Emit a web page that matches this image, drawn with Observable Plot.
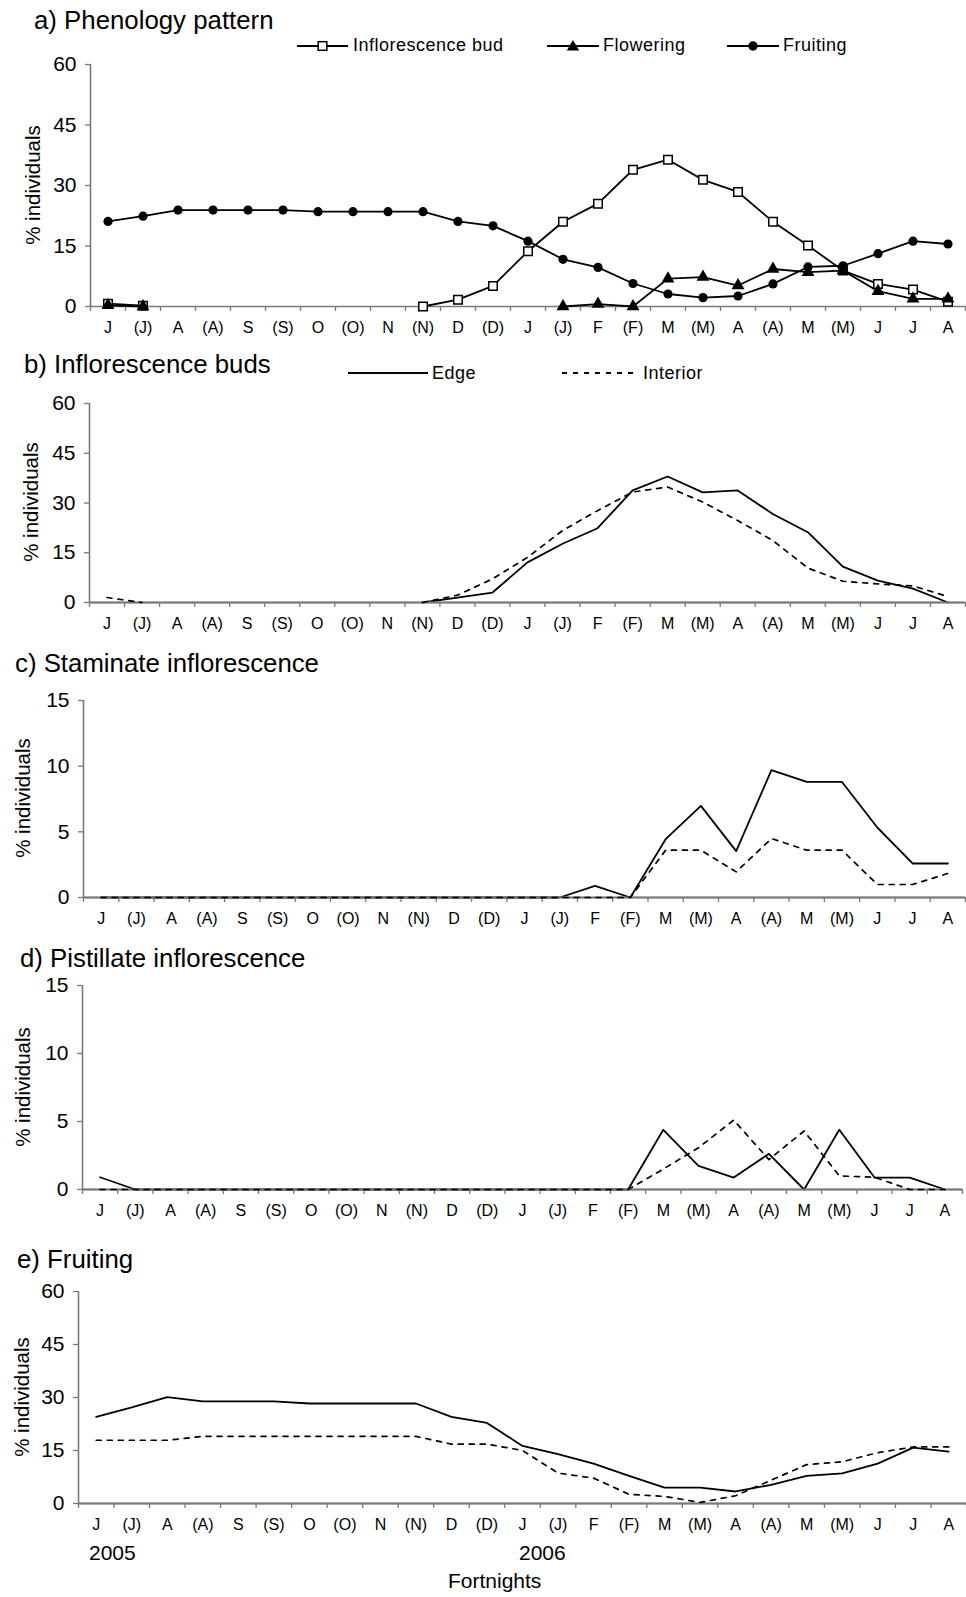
<!DOCTYPE html>
<html><head><meta charset="utf-8">
<script src="https://cdn.jsdelivr.net/npm/d3@7"></script>
<script src="https://cdn.jsdelivr.net/npm/@observablehq/plot@0.6"></script>
<style>
body{margin:0;background:#fff;font-family:"Liberation Sans",Arial,sans-serif;}
#root{position:relative;width:966px;height:1597px;overflow:hidden;}
.abs{position:absolute;line-height:1;white-space:nowrap;color:#000;}
.title{font-size:25.8px;}
.leg{font-size:18px;letter-spacing:0.5px;}
.ylab{font-size:20.5px;transform:translate(-50%,-50%) rotate(-90deg);}
.big{font-size:21px;}
</style></head><body><div id="root"></div>
<script>
// ---------- data ----------
const fortnights = ["J","(J)","A","(A)","S","(S)","O","(O)","N","(N)","D","(D)","J","(J)","F","(F)","M","(M)","A","(A)","M","(M)","J","J","A"];
const ticks60 = [0, 15, 30, 45, 60];
const ticks15 = [0, 5, 10, 15];

// a) Phenology pattern
const budA   = [0.7, 0.2, null, null, null, null, null, null, null, 0, 1.7, 5.1, 13.7, 21.0, 25.5, 33.9, 36.4, 31.4, 28.4, 21.0, 15.1, 8.9, 5.6, 4.2, 1.2];
const flowA  = [0.3, 0, null, null, null, null, null, null, null, null, null, null, null, 0, 0.6, 0, 6.9, 7.3, 5.2, 9.3, 8.5, 8.9, 3.8, 1.9, 1.9];
const fruitA = [21.1, 22.4, 23.9, 23.9, 23.9, 23.9, 23.5, 23.5, 23.5, 23.5, 21.1, 20.0, 16.2, 11.7, 9.7, 5.7, 3.1, 2.2, 2.6, 5.6, 9.8, 10.1, 13.1, 16.2, 15.5];

// b) Inflorescence buds
const edgeB = [null, null, null, null, null, null, null, null, null, 0, 1.5, 3.0, 12.1, 17.7, 22.4, 33.8, 38.0, 33.2, 33.8, 26.7, 21.2, 10.8, 6.6, 4.2, 0];
const intB  = [1.5, 0, null, null, null, null, null, null, null, 0, 2.2, 7.1, 13.6, 21.7, 27.7, 33.3, 34.8, 30.3, 24.7, 18.7, 10.4, 6.4, 5.6, 5.0, 1.8];

// c) Staminate inflorescence
const edgeC = [0, 0, 0, 0, 0, 0, 0, 0, 0, 0, 0, 0, 0, 0, 0.88, 0, 4.44, 6.98, 3.53, 9.7, 8.8, 8.8, 5.33, 2.59, 2.59];
const intC  = [0, 0, 0, 0, 0, 0, 0, 0, 0, 0, 0, 0, 0, 0, 0, 0, 3.6, 3.6, 1.95, 4.49, 3.6, 3.6, 0.99, 0.99, 1.83];

// d) Pistillate inflorescence
const edgeD = [0.9, 0, 0, 0, 0, 0, 0, 0, 0, 0, 0, 0, 0, 0, 0, 0, 4.39, 1.74, 0.88, 2.62, 0, 4.39, 0.88, 0.88, 0];
const intD  = [0, 0, 0, 0, 0, 0, 0, 0, 0, 0, 0, 0, 0, 0, 0, 0, 1.5, 3.07, 5.1, 2.2, 4.3, 1.0, 0.9, 0, 0];

// e) Fruiting
const edgeE = [24.5, 27.2, 30.1, 28.9, 28.9, 28.9, 28.3, 28.3, 28.3, 28.3, 24.5, 22.8, 16.3, 14.0, 11.3, 7.8, 4.5, 4.5, 3.4, 5.3, 7.8, 8.5, 11.3, 15.8, 14.7];
const intE  = [17.9, 17.9, 17.9, 19.0, 19.0, 19.0, 19.0, 19.0, 19.0, 19.0, 16.8, 16.8, 15.0, 8.6, 7.2, 2.6, 2.0, 0.3, 2.2, 6.6, 11.0, 11.8, 14.4, 16.0, 16.0];

const years = ["2005", "2006"];

// ---------- helpers ----------
const root = document.getElementById("root");
const n = fortnights.length;
const idx = d3.range(n);
const xDomain = [-0.5, n - 0.5];
const boundaries = d3.range(n + 1).map(i => i - 0.5);
const AX = "#7a7a7a";
const FONT = "'Liberation Sans', Arial, sans-serif";

function solid(arr) { return Plot.line(arr, {x: (d, i) => i, y: d => d, stroke: "#000", strokeWidth: 1.8}); }
function dashed(arr) { return Plot.line(arr, {x: (d, i) => i, y: d => d, stroke: "#000", strokeWidth: 1.7, strokeDasharray: "5,6"}); }
function baseRule() { return Plot.ruleY([0], {stroke: AX, strokeWidth: 2.2}); }

function panel({top, bottom, left, right, ymax, yticks, marks}) {
  const mt = 14, mb = 40;
  const svg = Plot.plot({
    width: 966,
    height: mt + (bottom - top) + mb,
    marginTop: mt, marginBottom: mb, marginLeft: left, marginRight: 966 - right,
    x: {type: "linear", domain: xDomain},
    y: {domain: [0, ymax]},
    style: {fontFamily: FONT, background: "transparent", overflow: "visible", color: "#000"},
    marks: [
      Plot.axisY({ticks: yticks, tickSize: 5, tickPadding: 9, fontSize: 21, stroke: AX, fill: "#000", strokeWidth: 1.3}),
      Plot.axisX({ticks: boundaries, tickSize: 5, text: null, stroke: AX, strokeWidth: 1.3}),
      Plot.axisX({ticks: idx, tickSize: 0, tickPadding: 15, tickFormat: i => fortnights[i], fontSize: 16, fill: "#000"}),
      Plot.ruleY([0], {stroke: AX, strokeWidth: 1.6}),
      Plot.ruleX([xDomain[0]], {stroke: AX, strokeWidth: 1.6}),
      ...marks
    ]
  });
  svg.style.position = "absolute";
  svg.style.left = "0px";
  svg.style.top = (top - mt) + "px";
  root.append(svg);
}

function text(str, cls, left, top) {
  const d = document.createElement("div");
  d.className = "abs " + cls;
  d.textContent = str;
  d.style.left = left + "px";
  d.style.top = top + "px";
  root.append(d);
  return d;
}
function ylab(cx, cy) { text("% individuals", "ylab", cx, cy); }

function swatch(x1, x2, cy, kind, dash) {
  const w = x2 - x1, h = 18;
  const ns = "http://www.w3.org/2000/svg";
  const s = document.createElementNS(ns, "svg");
  s.setAttribute("width", w); s.setAttribute("height", h);
  s.style.position = "absolute"; s.style.left = x1 + "px"; s.style.top = (cy - h / 2) + "px";
  const m = h / 2, c = w / 2;
  let inner = `<line x1="0" x2="${w}" y1="${m}" y2="${m}" stroke="#000" stroke-width="1.8" ${dash ? 'stroke-dasharray="5,6"' : ''}/>`;
  if (kind === "square") inner += `<rect x="${c - 4.3}" y="${m - 4.3}" width="8.6" height="8.6" fill="#fff" stroke="#000" stroke-width="1.5"/>`;
  if (kind === "triangle") inner += `<path d="M${c},${m - 6} L${c + 6.2},${m + 4.5} L${c - 6.2},${m + 4.5} Z" fill="#000"/>`;
  if (kind === "circle") inner += `<circle cx="${c}" cy="${m}" r="4.7" fill="#000"/>`;
  s.innerHTML = inner;
  root.append(s);
}

// ---------- panel a ----------
panel({top: 64, bottom: 306, left: 90, right: 965, ymax: 60, yticks: ticks60, marks: [
  solid(budA), solid(flowA), solid(fruitA),
  Plot.dot(budA, {x: (d, i) => i, y: d => d, symbol: "square", r: 4.8, fill: "#fff", stroke: "#000", strokeWidth: 1.5}),
  Plot.dot(flowA, {x: (d, i) => i, y: d => d, symbol: "triangle", r: 4.8, fill: "#000"}),
  Plot.dot(fruitA, {x: (d, i) => i, y: d => d, r: 4.6, fill: "#000"})
]});
text("a) Phenology pattern", "title", 34, 8);
ylab(33, 185);
swatch(297, 348, 46, "square", false);  text("Inflorescence bud", "leg", 353, 36);
swatch(547, 599, 46, "triangle", false); text("Flowering", "leg", 603, 36);
swatch(727, 779, 46, "circle", false);  text("Fruiting", "leg", 783, 36);

// ---------- panel b ----------
panel({top: 403, bottom: 602, left: 89, right: 965, ymax: 60, yticks: ticks60, marks: [
  solid(edgeB), baseRule(), dashed(intB)
]});
text("b) Inflorescence buds", "title", 24, 352);
ylab(31, 502);
swatch(348, 428, 373, null, false); text("Edge", "leg", 432, 364);
swatch(562, 637, 373, null, true);  text("Interior", "leg", 643, 364);

// ---------- panel c ----------
panel({top: 700, bottom: 897, left: 83, right: 965, ymax: 15, yticks: ticks15, marks: [
  solid(edgeC), baseRule(), dashed(intC)
]});
text("c) Staminate inflorescence", "title", 15, 651);
ylab(23, 798);

// ---------- panel d ----------
panel({top: 985, bottom: 1189, left: 82, right: 962, ymax: 15, yticks: ticks15, marks: [
  solid(edgeD), baseRule(), dashed(intD)
]});
text("d) Pistillate inflorescence", "title", 20, 946);
ylab(23, 1087);

// ---------- panel e ----------
panel({top: 1291, bottom: 1503, left: 78, right: 966, ymax: 60, yticks: ticks60, marks: [
  solid(edgeE), baseRule(), dashed(intE)
]});
text("e) Fruiting", "title", 17, 1247);
ylab(22, 1397);
text(years[0], "big", 89, 1542);
text(years[1], "big", 519, 1542);
text("Fortnights", "big", 448, 1570);
</script></body></html>
